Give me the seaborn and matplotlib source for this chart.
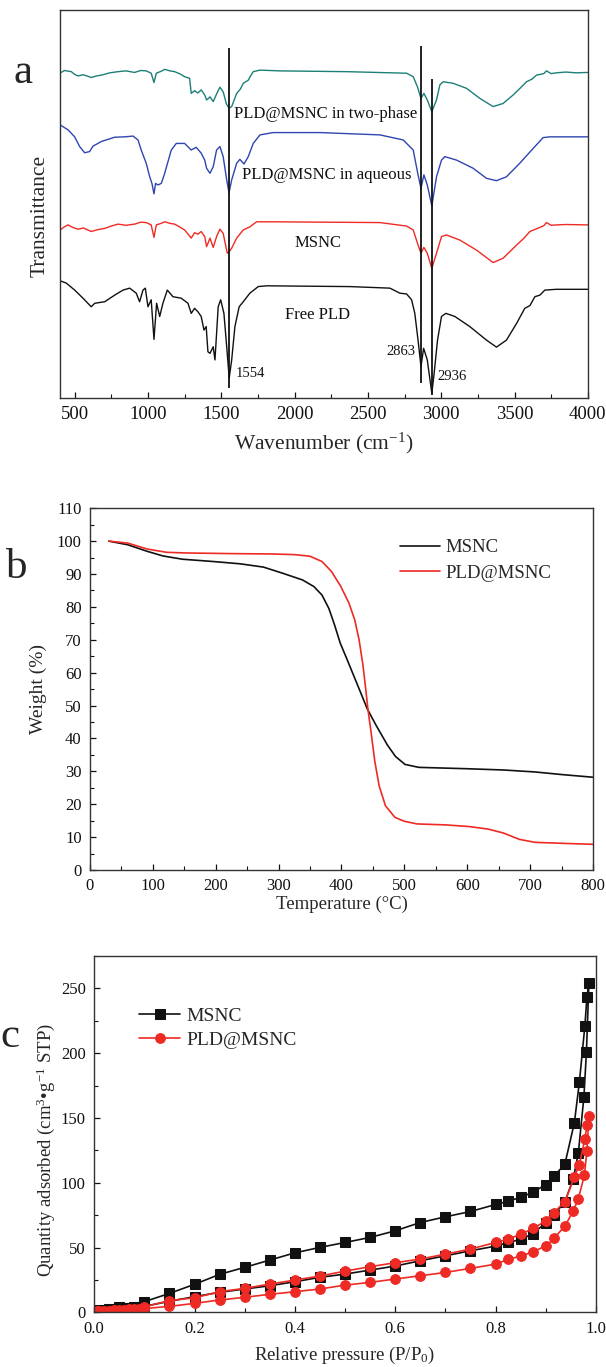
import matplotlib
matplotlib.use("Agg")
import matplotlib.pyplot as plt
from matplotlib.ticker import MultipleLocator, NullLocator, FormatStrFormatter
import pandas as pd
import seaborn as sns

# ---------------- (a) FTIR spectra (wavenumber, transmittance a.u.) ----------------
ftir_two_phase = [
    (400, 83.7), (430, 84.4), (477, 84.1), (500, 83.4), (523, 83.0), (560, 83.3), (613, 82.6),
    (650, 83.0), (682, 83.2), (740, 83.8), (795, 84.1), (850, 84.3), (909, 83.9), (950, 84.4),
    (988, 84.3), (1022, 83.7), (1041, 81.3), (1057, 83.7), (1090, 84.2), (1114, 84.7), (1150, 84.3),
    (1182, 84.1), (1220, 83.5), (1250, 82.8), (1284, 82.4), (1295, 78.5), (1318, 79.2), (1340, 78.6),
    (1363, 79.4), (1387, 78.1), (1400, 76.8), (1423, 77.6), (1445, 76.4), (1470, 78.5), (1491, 80.1),
    (1513, 78.9), (1535, 75.8), (1552, 74.7), (1571, 75.1), (1605, 78.5), (1630, 79.6), (1650, 81.1),
    (1684, 81.9), (1700, 83.0), (1718, 84.1), (1764, 84.5), (1900, 84.3), (2355, 84.1), (2764, 83.7),
    (2809, 82.8), (2838, 80.2), (2862, 77.2), (2882, 78.5), (2905, 76.8), (2936, 73.8), (2968, 76.8),
    (2991, 80.7), (3013, 81.5), (3082, 81.1), (3173, 79.8), (3264, 77.2), (3354, 75.1), (3422, 75.9),
    (3491, 78.1), (3540, 79.9), (3582, 81.5), (3620, 82.2), (3650, 83.2), (3700, 83.6), (3718, 84.3),
    (3750, 83.6), (3786, 83.8), (3850, 84.0), (3920, 83.8), (4000, 83.9),
]
ftir_aqueous = [
    (400, 70.4), (455, 69.1), (500, 67.3), (534, 64.8), (568, 63.2), (602, 63.5), (625, 64.9),
    (682, 66.1), (773, 67.2), (841, 67.3), (898, 67.5), (932, 66.5), (954, 63.9), (988, 60.5),
    (1012, 57.0), (1027, 55.3), (1041, 52.6), (1052, 55.3), (1068, 54.9), (1091, 55.3), (1114, 57.9),
    (1159, 63.9), (1193, 65.6), (1250, 65.6), (1295, 63.9), (1329, 64.6), (1363, 63.1), (1387, 61.3),
    (1400, 59.2), (1423, 57.9), (1445, 59.6), (1468, 63.9), (1491, 64.8), (1513, 62.2), (1537, 56.2),
    (1553, 52.9), (1571, 56.2), (1605, 60.5), (1627, 61.5), (1655, 60.3), (1684, 62.2), (1718, 65.6),
    (1764, 67.8), (1854, 68.4), (2173, 68.4), (2582, 67.8), (2741, 66.5), (2809, 63.9), (2840, 57.9),
    (2862, 54.0), (2882, 57.5), (2905, 54.9), (2936, 49.5), (2968, 57.0), (3002, 61.3), (3025, 62.2),
    (3105, 61.3), (3218, 59.2), (3309, 56.6), (3377, 56.0), (3445, 57.0), (3536, 60.5), (3627, 64.3),
    (3695, 67.1), (3741, 67.3), (4000, 67.3),
]
ftir_msnc = [
    (400, 43.3), (430, 44.1), (455, 44.6), (490, 43.9), (523, 43.5), (560, 43.8), (613, 42.9),
    (660, 43.4), (705, 43.7), (750, 44.3), (795, 44.8), (850, 44.5), (909, 44.8), (950, 45.3),
    (988, 45.2), (1022, 44.6), (1041, 41.4), (1057, 44.6), (1090, 45.0), (1114, 45.4), (1150, 45.0),
    (1182, 44.8), (1220, 44.0), (1250, 43.3), (1295, 41.2), (1318, 42.6), (1340, 42.2), (1363, 42.9),
    (1387, 41.6), (1400, 39.0), (1423, 41.2), (1445, 38.8), (1470, 41.8), (1491, 43.5), (1513, 42.4),
    (1541, 37.3), (1553, 37.6), (1571, 38.6), (1605, 41.2), (1650, 43.3), (1695, 44.1), (1741, 45.4),
    (1854, 45.4), (2582, 45.2), (2764, 44.3), (2809, 43.3), (2838, 39.9), (2862, 37.3), (2882, 38.8),
    (2905, 37.3), (2936, 33.4), (2968, 37.3), (3002, 41.6), (3036, 42.0), (3127, 40.7), (3241, 38.1),
    (3354, 34.9), (3422, 36.0), (3514, 39.4), (3560, 41.0), (3605, 42.9), (3650, 43.6), (3700, 44.4),
    (3718, 45.2), (3750, 44.5), (3786, 44.6), (3850, 44.7), (4000, 44.6),
]
ftir_free_pld = [
    (400, 30.2), (443, 29.6), (500, 27.8), (557, 25.7), (613, 23.5), (637, 24.4), (705, 24.8),
    (773, 26.5), (830, 27.8), (875, 28.3), (920, 27.0), (943, 24.8), (966, 27.8), (982, 28.3),
    (1000, 23.5), (1022, 25.3), (1041, 15.1), (1059, 24.4), (1080, 21.0), (1102, 24.4), (1132, 27.8),
    (1170, 26.1), (1227, 25.7), (1273, 24.4), (1295, 21.8), (1318, 23.1), (1341, 22.2), (1363, 21.0),
    (1382, 17.5), (1397, 18.4), (1409, 11.9), (1423, 11.5), (1445, 13.2), (1457, 9.8), (1479, 23.5),
    (1496, 25.3), (1518, 21.8), (1537, 13.2), (1554, 5.1), (1571, 9.8), (1593, 18.4), (1622, 23.5),
    (1650, 24.8), (1695, 27.0), (1752, 28.7), (1809, 28.9), (2377, 28.7), (2650, 28.3), (2718, 27.0),
    (2764, 26.8), (2798, 25.3), (2820, 21.8), (2842, 14.9), (2862, 8.1), (2880, 12.8), (2905, 9.8),
    (2936, 1.2), (2952, 6.4), (2975, 14.9), (3002, 21.0), (3032, 21.8), (3093, 21.0), (3195, 18.4),
    (3309, 14.9), (3377, 13.1), (3445, 14.9), (3514, 19.2), (3570, 23.1), (3605, 23.8), (3639, 26.1),
    (3673, 26.5), (3707, 27.8), (3786, 28.0), (4000, 28.0),
]
ftir_names = ["PLD@MSNC in two-phase", "PLD@MSNC in aqueous", "MSNC", "Free PLD"]
ftir_label_pos = [(2210, 73.2), (2220, 57.5), (2159, 39.9), (2159, 21.4)]
peak_marks = [1554, 2863, 2936]
peak_line_top = [90.2, 90.8, 82.1]
peak_line_bottom = [2.6, 3.9, 0.8]
peak_text_pos = [(1598, 6.4), (2827, 11.9), (2977, 5.4)]

# ---------------- (b) TGA ----------------
tga_temp_msnc = [30, 60, 91, 116, 147, 196, 239, 276, 307, 338, 356, 369, 380, 389, 398, 410,
                 425, 441, 455, 473, 486, 501, 523, 597, 658, 708, 751, 800]
tga_weight_msnc = [100, 98.9, 96.9, 95.5, 94.5, 93.8, 93.1, 92.1, 90.2, 88.2, 86.2, 83.6, 79.5,
                   74.5, 69.0, 63.5, 56.5, 49.0, 44.0, 38.0, 34.5, 32.1, 31.2, 30.8, 30.4, 29.8,
                   29.0, 28.2]
tga_temp_pld = [30, 60, 91, 122, 153, 227, 288, 325, 350, 369, 384, 399, 412, 421, 428, 434,
                438, 442, 447, 453, 460, 470, 485, 500, 520, 566, 603, 634, 658, 683, 708, 751, 800]
tga_weight_pld = [100, 99.4, 97.6, 96.6, 96.4, 96.2, 96.1, 95.9, 95.4, 93.8, 90.8, 86.2, 81.1,
                  76.1, 70.0, 62.5, 56.0, 49.0, 42.0, 33.0, 25.5, 19.5, 16.0, 14.8, 14.0, 13.7,
                  13.2, 12.4, 11.2, 9.3, 8.4, 8.1, 7.8]

# ---------------- (c) N2 isotherms ----------------
msnc_ads_p = [0.005, 0.01, 0.02, 0.03, 0.04, 0.05, 0.06, 0.07, 0.08, 0.09, 0.10, 0.15, 0.20,
              0.25, 0.30, 0.35, 0.40, 0.45, 0.50, 0.55, 0.60, 0.65, 0.70, 0.75, 0.80, 0.825,
              0.85, 0.875, 0.90, 0.916, 0.938, 0.955, 0.965, 0.976, 0.981, 0.986]
msnc_ads_q = [1.2, 1.6, 2.0, 2.4, 2.7, 3.0, 3.3, 3.6, 3.9, 4.2, 4.6, 8.5, 12.1, 15.4, 18.0,
              20.5, 23.6, 27.0, 29.5, 32.6, 35.7, 39.8, 43.6, 47.5, 51.1, 53.9, 56.2, 60.8,
              69.1, 75.0, 85.2, 103.2, 123.2, 166.1, 200.7, 254.0]
msnc_des_p = [0.982, 0.978, 0.967, 0.957, 0.938, 0.916, 0.90, 0.875, 0.85, 0.825, 0.80, 0.75,
              0.70, 0.65, 0.60, 0.55, 0.50, 0.45, 0.40, 0.35, 0.30, 0.25, 0.20, 0.15, 0.10, 0.05]
msnc_des_q = [243.1, 221.3, 177.6, 146.3, 114.2, 105.0, 98.6, 92.7, 88.8, 85.7, 83.2, 77.8,
              73.7, 69.3, 62.9, 57.8, 53.9, 50.1, 45.9, 40.3, 34.7, 29.3, 21.6, 14.6, 8.2, 3.9]
pld_ads_p = msnc_ads_p[:29] + [0.916, 0.938, 0.955, 0.965, 0.977, 0.982, 0.986]
pld_ads_q = [0.8, 1.0, 1.2, 1.4, 1.6, 1.8, 2.0, 2.2, 2.4, 2.6, 2.9, 4.6, 6.9, 9.5, 11.6, 13.9,
             15.9, 18.0, 21.0, 23.1, 25.7, 28.2, 30.8, 33.9, 37.2, 40.8, 43.4, 46.7, 51.3,
             57.0, 66.5, 78.3, 87.8, 105.8, 124.5, 151.2]
pld_des_p = msnc_des_p[:25]
pld_des_q = [144.2, 134.0, 114.0, 104.4, 85.2, 77.0, 70.6, 64.7, 60.3, 56.5, 53.9, 48.8, 44.9,
             41.1, 38.3, 35.2, 31.8, 28.0, 24.9, 21.8, 18.5, 15.9, 11.2, 9.0, 4.3]

FTIR_COLORS = ["#1d7f78", "#2f45b0", "#f02a24", "#111111"]
RED = "#ee2a24"
FRAME = "#333333"


def style_axes(ax, size):
    for sp in ax.spines.values():
        sp.set_visible(True)
        sp.set_color(FRAME)
        sp.set_linewidth(1.0)
    ax.tick_params(which="both", direction="in", top=False, right=False,
                   labelsize=size, colors="#111111")
    ax.tick_params(which="major", length=4.5, width=0.9, pad=6)
    ax.tick_params(which="minor", length=3, width=0.8)


def main():
    sns.set_style("ticks")
    plt.rcParams["font.family"] = ["Liberation Serif", "DejaVu Serif"]
    plt.rcParams["mathtext.fontset"] = "custom"
    plt.rcParams["mathtext.rm"] = "Liberation Serif"
    plt.rcParams["mathtext.it"] = "Liberation Serif:italic"

    fig = plt.figure(figsize=(6.06, 13.67), dpi=100)
    ax_a = fig.add_axes([0.099, 0.7089, 0.871, 0.2838])
    ax_b = fig.add_axes([0.1485, 0.3636, 0.830, 0.2646])
    ax_c = fig.add_axes([0.1554, 0.0400, 0.828, 0.2607])

    # (a) FTIR
    for pts, color in zip([ftir_two_phase, ftir_aqueous, ftir_msnc, ftir_free_pld], FTIR_COLORS):
        df = pd.DataFrame(pts, columns=["wn", "t"])
        sns.lineplot(data=df, x="wn", y="t", ax=ax_a, color=color, lw=1.0,
                     sort=False, estimator=None)
    ax_a.vlines(peak_marks, peak_line_bottom, peak_line_top, color="#111111", lw=1.3)
    for name, (x, y) in zip(ftir_names, ftir_label_pos):
        ax_a.text(x, y, name, ha="center", va="center", fontsize=12, color="#111111")
    for mark, (x, y), ha in zip(peak_marks, peak_text_pos, ["left", "right", "left"]):
        ax_a.text(x, y, str(mark), ha=ha, va="center", fontsize=10.5, color="#111111")
    ax_a.set_xlim(400, 4000)
    ax_a.set_ylim(0, 100)
    ax_a.xaxis.set_major_locator(MultipleLocator(500))
    ax_a.xaxis.set_minor_locator(MultipleLocator(250))
    ax_a.yaxis.set_major_locator(NullLocator())
    style_axes(ax_a, 13.5)
    ax_a.set_xlabel("Wavenumber (cm$^{-1}$)", fontsize=15.5)
    ax_a.set_ylabel("Transmittance", fontsize=15.5)
    ax_a.xaxis.set_label_coords(0.5, -0.085)
    ax_a.yaxis.set_label_coords(-0.02, 0.47)

    # (b) TGA
    sns.lineplot(x=tga_temp_msnc, y=tga_weight_msnc, ax=ax_b, color="#111111", lw=1.2,
                 sort=False, estimator=None, label="MSNC")
    sns.lineplot(x=tga_temp_pld, y=tga_weight_pld, ax=ax_b, color=RED, lw=1.2,
                 sort=False, estimator=None, label="PLD@MSNC")
    ax_b.set_xlim(0, 800)
    ax_b.set_ylim(0, 110)
    ax_b.xaxis.set_major_locator(MultipleLocator(100))
    ax_b.xaxis.set_minor_locator(MultipleLocator(50))
    ax_b.yaxis.set_major_locator(MultipleLocator(10))
    ax_b.yaxis.set_minor_locator(MultipleLocator(5))
    style_axes(ax_b, 12)
    ax_b.set_xlabel("Temperature (°C)", fontsize=13.5)
    ax_b.set_ylabel("Weight (%)", fontsize=14)
    ax_b.xaxis.set_label_coords(0.5, -0.07)
    ax_b.yaxis.set_label_coords(-0.085, 0.5)
    ax_b.legend(loc="upper left", bbox_to_anchor=(0.617, 0.915), frameon=False,
                fontsize=13.5, handlelength=2.1, handletextpad=0.3, borderaxespad=0,
                borderpad=0, labelspacing=0.45)

    # (c) isotherms
    msnc_df = pd.DataFrame({"p": msnc_ads_p + msnc_des_p, "q": msnc_ads_q + msnc_des_q})
    pld_df = pd.DataFrame({"p": pld_ads_p + pld_des_p, "q": pld_ads_q + pld_des_q})
    sns.lineplot(data=msnc_df, x="p", y="q", ax=ax_c, color="#111111", lw=1.2,
                 marker="s", markersize=6.5, markeredgecolor="#111111",
                 sort=False, estimator=None, label="MSNC")
    sns.lineplot(data=pld_df, x="p", y="q", ax=ax_c, color=RED, lw=1.2,
                 marker="o", markersize=7, markeredgecolor=RED,
                 sort=False, estimator=None, label="PLD@MSNC")
    ax_c.set_xlim(0, 1.0)
    ax_c.set_ylim(0, 275)
    ax_c.xaxis.set_major_locator(MultipleLocator(0.2))
    ax_c.xaxis.set_minor_locator(MultipleLocator(0.1))
    ax_c.yaxis.set_major_locator(MultipleLocator(50))
    ax_c.yaxis.set_minor_locator(MultipleLocator(25))
    ax_c.xaxis.set_major_formatter(FormatStrFormatter("%.1f"))
    style_axes(ax_c, 12)
    ax_c.set_xlabel("Relative pressure (P/P$_0$)", fontsize=13.5)
    ax_c.set_ylabel("Quantity adsorbed (cm$^3$•g$^{-1}$ STP)", fontsize=13.5)
    ax_c.xaxis.set_label_coords(0.5, -0.09)
    ax_c.yaxis.set_label_coords(-0.075, 0.455)
    ax_c.legend(loc="upper left", bbox_to_anchor=(0.09, 0.855), frameon=False,
                fontsize=14, handlelength=2.1, handletextpad=0.3, borderaxespad=0,
                borderpad=0, labelspacing=0.3)

    # panel letters
    fig.text(0.038, 0.9466, "a", fontsize=31, ha="center", va="center")
    fig.text(0.028, 0.585, "b", fontsize=31, ha="center", va="center")
    fig.text(0.001, 0.2414, "c", fontsize=31, ha="left", va="center")

    fig.savefig("out.png", dpi=100)


if __name__ == "__main__":
    main()
